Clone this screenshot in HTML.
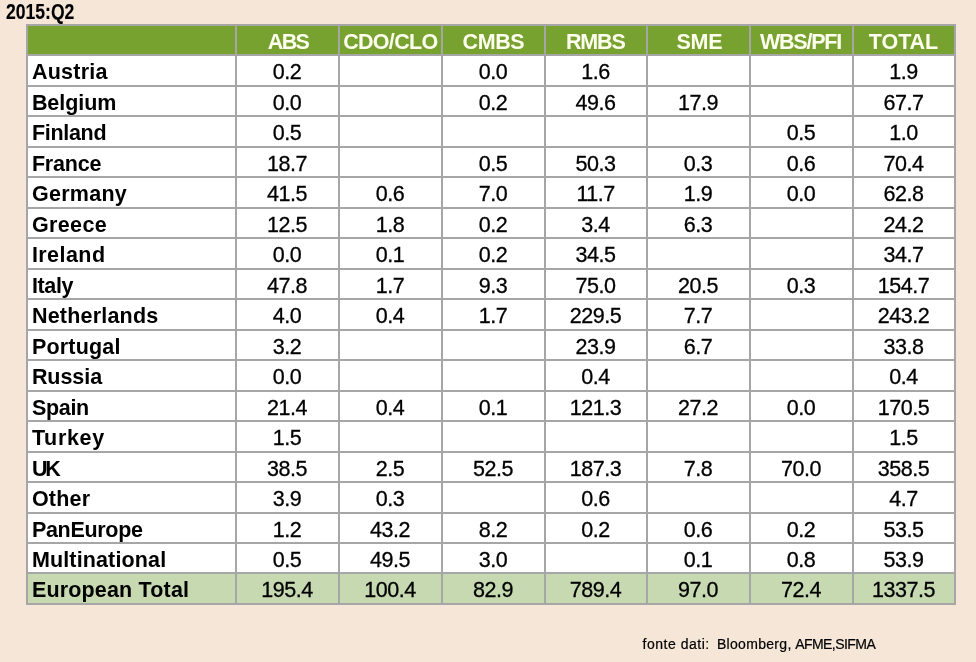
<!DOCTYPE html>
<html lang="it"><head><meta charset="utf-8"><title>2015:Q2</title>
<style>
html,body{margin:0;padding:0}
body{width:976px;height:662px;background:#f5e6d8;position:relative;overflow:hidden;font-family:"Liberation Sans",sans-serif;color:#000}
.title{position:absolute;left:6.2px;top:0px;font-size:22.5px;font-weight:bold;line-height:24px;transform:scaleX(.78);transform-origin:0 0;white-space:nowrap;-webkit-text-stroke:.15px #000}
table{position:absolute;left:26px;top:24px;border-collapse:collapse;table-layout:fixed;width:930px;background:#fff}
td,th{border:2px solid #a6a6a6;padding:4.5px 0 0;font-size:21.5px;font-weight:normal;text-align:center;line-height:22px;white-space:nowrap;overflow:hidden;vertical-align:top}
th{background:#77a22f;color:#fefeee;font-weight:bold;font-size:21.5px}
th span{display:inline-block;position:relative;}
td{letter-spacing:-.5px;-webkit-text-stroke:.3px #000;padding-right:1px}
td.c{text-align:left;font-weight:bold;font-size:21.5px;padding-left:3.9px;padding-right:0;letter-spacing:0;-webkit-text-stroke:0}
tr.tot td{background:#c6d9b0}
.src{position:absolute;left:0;top:635.4px;font-size:14px;line-height:18px;white-space:nowrap;color:#000;-webkit-text-stroke:.2px #000}
.src span{position:absolute;top:0}
</style></head><body>
<div class="title">2015:Q2</div>
<table><colgroup><col style="width:209px"><col style="width:103px"><col style="width:103px"><col style="width:103px"><col style="width:102px"><col style="width:103px"><col style="width:103px"><col style="width:102px"></colgroup>
<thead><tr style="height:30px"><th></th><th><span style="letter-spacing:-1.60px;left:0.51px">ABS</span></th><th><span style="letter-spacing:-0.69px;left:-0.21px">CDO/CLO</span></th><th><span style="letter-spacing:-0.39px;left:-0.12px">CMBS</span></th><th><span style="letter-spacing:-1.18px;left:-0.71px">RMBS</span></th><th><span style="letter-spacing:-0.26px;left:0.86px">SME</span></th><th><span style="letter-spacing:-1.21px;left:-1.07px">WBS/PFI</span></th><th><span style="letter-spacing:-0.07px;left:-0.51px">TOTAL</span></th></tr></thead><tbody>
<tr style="height:31px"><td class="c" style="letter-spacing:0.24px">Austria</td><td>0.2</td><td></td><td>0.0</td><td>1.6</td><td></td><td></td><td>1.9</td></tr>
<tr style="height:30px"><td class="c" style="letter-spacing:-0.06px">Belgium</td><td>0.0</td><td></td><td>0.2</td><td>49.6</td><td>17.9</td><td></td><td>67.7</td></tr>
<tr style="height:31px"><td class="c" style="letter-spacing:-0.30px">Finland</td><td>0.5</td><td></td><td></td><td></td><td></td><td>0.5</td><td>1.0</td></tr>
<tr style="height:30px"><td class="c" style="letter-spacing:-0.19px">France</td><td>18.7</td><td></td><td>0.5</td><td>50.3</td><td>0.3</td><td>0.6</td><td>70.4</td></tr>
<tr style="height:31px"><td class="c" style="letter-spacing:0.28px">Germany</td><td>41.5</td><td>0.6</td><td>7.0</td><td>11.7</td><td>1.9</td><td>0.0</td><td>62.8</td></tr>
<tr style="height:30px"><td class="c" style="letter-spacing:0.39px">Greece</td><td>12.5</td><td>1.8</td><td>0.2</td><td>3.4</td><td>6.3</td><td></td><td>24.2</td></tr>
<tr style="height:31px"><td class="c" style="letter-spacing:0.44px">Ireland</td><td>0.0</td><td>0.1</td><td>0.2</td><td>34.5</td><td></td><td></td><td>34.7</td></tr>
<tr style="height:30px"><td class="c" style="letter-spacing:-0.36px">Italy</td><td>47.8</td><td>1.7</td><td>9.3</td><td>75.0</td><td>20.5</td><td>0.3</td><td>154.7</td></tr>
<tr style="height:31px"><td class="c" style="letter-spacing:0.21px">Netherlands</td><td>4.0</td><td>0.4</td><td>1.7</td><td>229.5</td><td>7.7</td><td></td><td>243.2</td></tr>
<tr style="height:30px"><td class="c" style="letter-spacing:0.20px">Portugal</td><td>3.2</td><td></td><td></td><td>23.9</td><td>6.7</td><td></td><td>33.8</td></tr>
<tr style="height:31px"><td class="c" style="letter-spacing:-0.05px">Russia</td><td>0.0</td><td></td><td></td><td>0.4</td><td></td><td></td><td>0.4</td></tr>
<tr style="height:30px"><td class="c" style="letter-spacing:-0.30px">Spain</td><td>21.4</td><td>0.4</td><td>0.1</td><td>121.3</td><td>27.2</td><td>0.0</td><td>170.5</td></tr>
<tr style="height:31px"><td class="c" style="letter-spacing:0.67px">Turkey</td><td>1.5</td><td></td><td></td><td></td><td></td><td></td><td>1.5</td></tr>
<tr style="height:30px"><td class="c" style="letter-spacing:-2.16px">UK</td><td>38.5</td><td>2.5</td><td>52.5</td><td>187.3</td><td>7.8</td><td>70.0</td><td>358.5</td></tr>
<tr style="height:31px"><td class="c" style="letter-spacing:0.21px">Other</td><td>3.9</td><td>0.3</td><td></td><td>0.6</td><td></td><td></td><td>4.7</td></tr>
<tr style="height:30px"><td class="c" style="letter-spacing:-0.30px">PanEurope</td><td>1.2</td><td>43.2</td><td>8.2</td><td>0.2</td><td>0.6</td><td>0.2</td><td>53.5</td></tr>
<tr style="height:30px"><td class="c" style="letter-spacing:0.14px">Multinational</td><td>0.5</td><td>49.5</td><td>3.0</td><td></td><td>0.1</td><td>0.8</td><td>53.9</td></tr>
<tr class="tot" style="height:31px"><td class="c" style="letter-spacing:0.17px">European Total</td><td>195.4</td><td>100.4</td><td>82.9</td><td>789.4</td><td>97.0</td><td>72.4</td><td>1337.5</td></tr>
</tbody></table>
<div class="src"><span style="left:642.47px;letter-spacing:0.53px">fonte dati:</span><span style="left:716.99px;letter-spacing:0.30px">Bloomberg,</span><span style="left:795.13px;letter-spacing:-0.55px">AFME,SIFMA</span></div>
</body></html>
